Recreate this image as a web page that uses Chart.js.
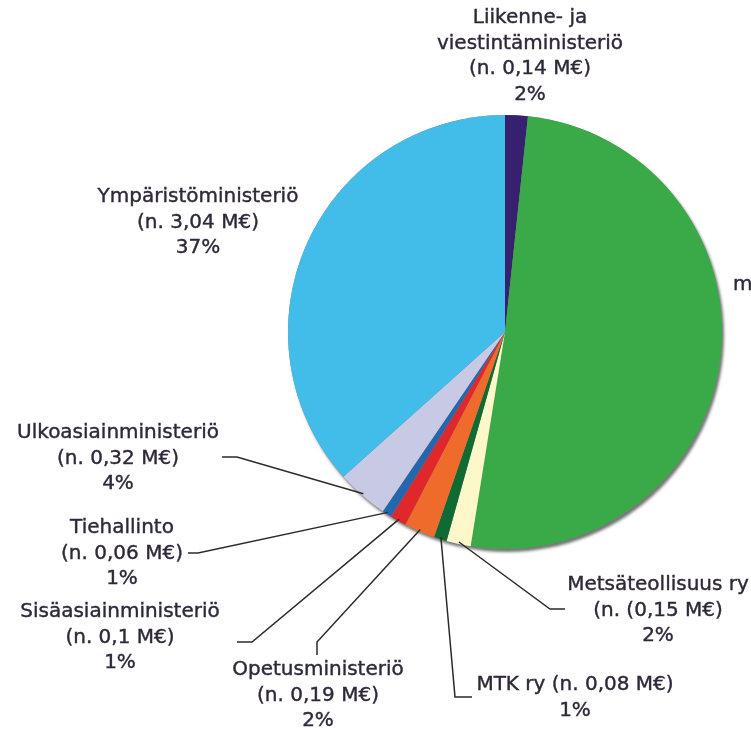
<!DOCTYPE html>
<html>
<head>
<meta charset="utf-8">
<script src="https://cdn.jsdelivr.net/npm/chart.js@4.4.1/dist/chart.umd.min.js"></script>
<style>
  html, body { margin: 0; padding: 0; background: #fff; }
  canvas { display: block; }
</style>
</head>
<body>
<canvas id="pieChart" width="751" height="731"></canvas>
<script>
// data, clockwise from 12 o'clock
const categories = [
    ["Liikenne- ja", "viestintäministeriö"],
    ["Maa- ja", "metsätalousministeriö"],
    ["Metsäteollisuus ry"],
    ["MTK ry"],
    ["Opetusministeriö"],
    ["Sisäasiainministeriö"],
    ["Tiehallinto"],
    ["Ulkoasiainministeriö"],
    ["Ympäristöministeriö"]
];
const values = [0.14, 4.22, 0.15, 0.08, 0.19, 0.1, 0.06, 0.32, 3.04];
const amountLabels = ["(n. 0,14 M€)", "(n. 4,22 M€)", "(n. (0,15 M€)", "(n. 0,08 M€)", "(n. 0,19 M€)", "(n. 0,1 M€)", "(n. 0,06 M€)", "(n. 0,32 M€)", "(n. 3,04 M€)"];
const percentLabels = ["2%", "51%", "2%", "1%", "2%", "1%", "1%", "4%", "37%"];
const colors = ["#36206f", "#3aa947", "#fdf8c9", "#0f6b32", "#ef6b2c", "#e0272c", "#2567ad", "#c7c9e5", "#42bdea"];

// label placement: x = centre of text (or left edge when left:true), y = centre of first line,
// leader = points from the text towards the slice (the last point joins the slice edge)
const labelLayout = [
    { x: 530, y: 18 },
    { x: 733, y: 259, left: true },
    { x: 658, y: 585, leader: [[565, 609], [550, 609]] },
    { x: 575, y: 685, inline: true, leader: [[472, 697], [455, 697]] },
    { x: 318, y: 670, leader: [[317, 655], [317, 642]] },
    { x: 120, y: 612, leader: [[237, 642], [252, 642]] },
    { x: 122, y: 528, leader: [[188, 553], [198, 553]] },
    { x: 118, y: 433, leader: [[222, 457], [237, 457]] },
    { x: 198, y: 197 }
];

const FONT = "20px 'DejaVu Sans', Verdana, sans-serif";
const LINE_H = 25.5;
const TEXT_COLOR = "#2f2838";

const shadowPlugin = {
    id: "pieShadow",
    beforeDatasetsDraw(chart) {
        const arc = chart.getDatasetMeta(0).data[0];
        if (!arc) return;
        const ctx = chart.ctx;
        ctx.save();
        ctx.shadowColor = "rgba(0,0,0,0.55)";
        ctx.shadowBlur = 3;
        ctx.shadowOffsetX = 2;
        ctx.shadowOffsetY = 3;
        ctx.fillStyle = "#8a8a8a";
        ctx.beginPath();
        ctx.arc(arc.x, arc.y, arc.outerRadius, 0, Math.PI * 2);
        ctx.fill();
        ctx.restore();
    }
};

const labelPlugin = {
    id: "sliceLabels",
    afterDatasetsDraw(chart) {
        const ctx = chart.ctx;
        const arcs = chart.getDatasetMeta(0).data;
        ctx.save();
        ctx.font = FONT;
        ctx.fillStyle = TEXT_COLOR;
        ctx.textBaseline = "middle";
        ctx.textAlign = "center";

        arcs.forEach((arc, i) => {
            const lay = labelLayout[i];
            let lines;
            if (lay.inline) {
                lines = [categories[i].join(" ") + " " + amountLabels[i], percentLabels[i]];
            } else {
                lines = categories[i].concat([amountLabels[i], percentLabels[i]]);
            }
            let cx = lay.x;
            if (lay.left) {
                const w = Math.max(...lines.map(l => ctx.measureText(l).width));
                cx = lay.x + w / 2;
            }
            ctx.strokeStyle = TEXT_COLOR;
            ctx.lineWidth = 0.4;
            lines.forEach((l, k) => {
                ctx.fillText(l, cx, lay.y + k * LINE_H);
                ctx.strokeText(l, cx, lay.y + k * LINE_H);
            });

            if (lay.leader) {
                const mid = (arc.startAngle + arc.endAngle) / 2;
                const r = arc.outerRadius - 2;
                const ax = arc.x + Math.cos(mid) * r;
                const ay = arc.y + Math.sin(mid) * r;
                ctx.strokeStyle = "#2b2b2b";
                ctx.lineWidth = 1.5;
                ctx.beginPath();
                ctx.moveTo(lay.leader[0][0], lay.leader[0][1]);
                for (let k = 1; k < lay.leader.length; k++) {
                    ctx.lineTo(lay.leader[k][0], lay.leader[k][1]);
                }
                ctx.lineTo(ax, ay);
                ctx.stroke();
            }
        });
        ctx.restore();
    }
};

const ctx = document.getElementById("pieChart").getContext("2d");
new Chart(ctx, {
    type: "pie",
    data: {
        labels: categories.map(c => c.join(" ")),
        datasets: [{
            data: values,
            backgroundColor: colors,
            borderWidth: 0
        }]
    },
    options: {
        responsive: false,
        animation: false,
        layout: {
            padding: { left: 288, right: 29, top: 115, bottom: 182 }
        },
        plugins: {
            legend: { display: false },
            tooltip: { enabled: false }
        }
    },
    plugins: [shadowPlugin, labelPlugin]
});
</script>
</body>
</html>
